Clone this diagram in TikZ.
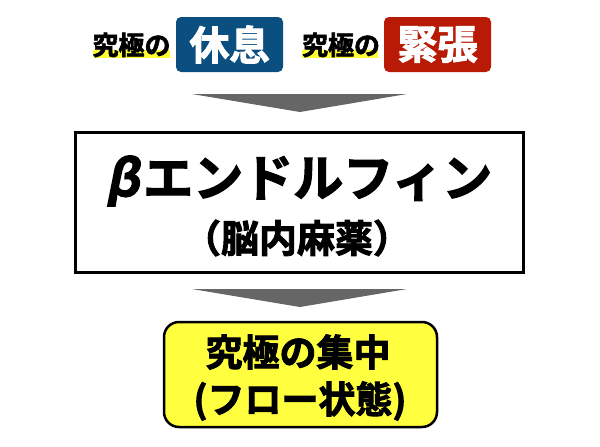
\documentclass[tikz,border=0pt]{standalone}
\usepackage{fontspec}
\newfontfamily\cjk{Noto Sans CJK JP Bold}[FakeBold=2.5]
\newfontfamily\cjkslant{Noto Sans CJK JP Bold}[FakeSlant=0.2,FakeBold=2.5]
\definecolor{restblue}{HTML}{0A4F80}
\definecolor{tensered}{HTML}{B81A06}
\definecolor{hl}{HTML}{FFFF33}
\definecolor{arrowgray}{HTML}{666666}
\definecolor{flowyellow}{HTML}{FFFF40}
\tikzset{
  lbl/.style={font=\cjk\fontsize{26}{26}\selectfont, inner sep=0pt},
  tagbox/.style={rounded corners=5pt, text=white, minimum width=107pt, minimum height=55pt,
     font=\cjk\fontsize{40}{40}\selectfont, inner sep=0pt},
  hlband/.style={fill=hl, draw=none},
  bigarrow/.style={fill=arrowgray, draw=none},
  mainbox/.style={draw=black, line width=3pt, fill=white, minimum width=448pt, minimum height=140pt},
  flowbox/.style={draw=black, line width=2.5pt, fill=flowyellow, rounded corners=15pt,
     minimum width=273pt, minimum height=105pt}
}
\begin{document}
\begin{tikzpicture}[x=1pt,y=-1pt]
\useasboundingbox (0,0) rectangle (600,447);
% highlights
\fill[hlband] (93,50) rectangle (170,58);
\fill[hlband] (302,50) rectangle (378,58);
\node[lbl] (l1) at (131.5,45) {究極の};
\node[lbl] (l2) at (341,45) {究極の};
\node[tagbox, fill=restblue] (rest) at (229.5,44.5) {休息};
\node[tagbox, fill=tensered] (tense) at (437.5,44.5) {緊張};
% arrow 1
\coordinate (a1l) at (192,94);
\coordinate (a1r) at (407,94);
\coordinate (a1t) at (300,112);
\fill[bigarrow] (a1l) -- (a1r) -- (a1t) -- cycle;
% main box
\node[mainbox] (beta) at (299,202) {};
\node[font=\cjk\fontsize{50}{50}\selectfont, inner sep=0pt] (betat) at (299,181) {{\cjkslant β}\hspace{4pt}エンドルフィン};
\node[font=\cjk\fontsize{38}{38}\selectfont, inner sep=0pt] (betas) at (297,238) {（脳内麻薬）};
% arrow 2
\coordinate (a2l) at (192,289);
\coordinate (a2r) at (407,289);
\coordinate (a2t) at (300,307);
\fill[bigarrow] (a2l) -- (a2r) -- (a2t) -- cycle;
% flow box
\node[flowbox] (flow) at (300.5,374.5) {};
\node[font=\cjk\fontsize{37}{37}\selectfont, inner sep=0pt] (flow1) at (298,352) {究極の集中};
\node[font=\cjk\fontsize{37}{37}\selectfont, inner sep=0pt] (flow2) at (300,401) {(フロー状態)};
\end{tikzpicture}
\end{document}
